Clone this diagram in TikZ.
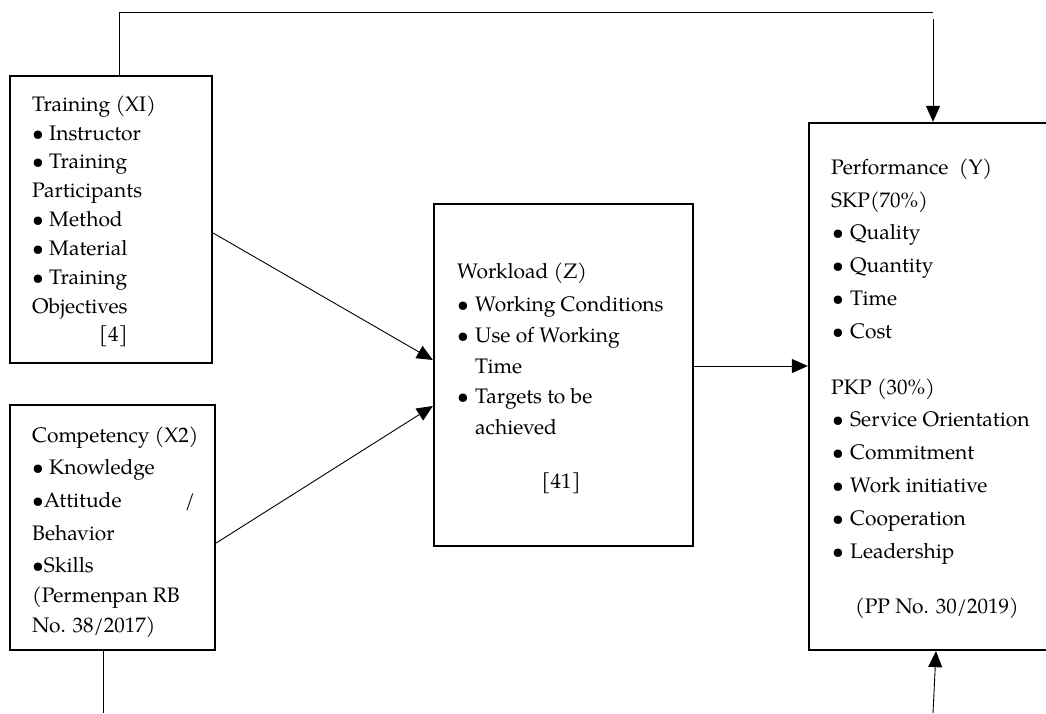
\documentclass[tikz,border=0pt]{standalone}
\usepackage{fontspec}
\setmainfont{TeX Gyre Pagella}
\usetikzlibrary{arrows.meta}
\begin{document}
\begin{tikzpicture}[x=1pt,y=-1pt,
  box/.style={draw,line width=2.3pt,inner sep=0pt,rectangle},
  conn/.style={line width=0.9pt},
  arr/.style={conn,-{Triangle[length=16pt,width=14pt]}},
  txt/.style={anchor=base west,inner sep=0pt,font=\fontsize{21}{29}\selectfont}]
\useasboundingbox (0,0) rectangle (1046,713);
% boxes
\node[box,minimum width=202pt,minimum height=287pt] (train) at (111,219.5) {};
\node[box,minimum width=205pt,minimum height=245pt] (comp) at (112.5,527.5) {};
\node[box,minimum width=259pt,minimum height=342pt] (work) at (563.5,375) {};
\node[box,minimum width=251pt,minimum height=527pt] (perf) at (934.5,386.5) {};
% training text
\foreach \n/\y/\t in {a/111/{Training (XI)}, b/140/{• Instructor}, c/168/{• Training},
  d/197/{Participants}, e/226/{• Method}, f/255/{• Material}, g/284/{• Training},
  h/313/{Objectives}}
  \node[txt] (tr\n) at (32,\y) {\t};
\node[txt] (trref) at (99,341) {[4]};
% competency text
\foreach \n/\y/\t in {a/442/{Competency (X2)}, b/474/{• Knowledge},
  c/507/{\hbox to 163pt{•Attitude\hfill/}}, d/540/{Behavior}, e/572/{•Skills},
  f/602/{(Permenpan RB}, g/632/{No. 38/2017)}}
  \node[txt] (co\n) at (32,\y) {\t};
% workload text
\node[txt] (woa) at (457,278) {Workload (Z)};
\foreach \n/\y/\t in {b/311/{Working Conditions}, c/342/{Use of Working}, e/403/{Targets to be}}
  \node[txt] (wo\n) at (457,\y) {\makebox[18pt][l]{•}\t};
\node[txt] (wod) at (475,373) {Time};
\node[txt] (wof) at (475,434) {achieved};
\node[txt,anchor=base] (woref) at (561,488) {[41]};
% performance text
\node[txt] (pea) at (831,174) {Performance~ (Y)};
\node[txt] (peb) at (831,207) {SKP(70\%)};
\foreach \n/\y/\t in {c/239/{Quality}, d/272/{Quantity}, e/305/{Time}, f/338/{Cost},
  h/426/{Service Orientation}, i/459/{Commitment}, j/492/{Work initiative},
  k/525/{Cooperation}, l/558/{Leadership}}
  \node[txt] (pe\n) at (832,\y) {\makebox[18pt][l]{•}\t};
\node[txt] (peg) at (831,394) {PKP (30\%)};
\node[txt] (peref) at (855,613) {(PP No. 30/2019)};
% connectors
\coordinate (topR) at (933,12);
\coordinate (topS) at (933,19);
\coordinate (botL) at (103,713);
\coordinate (botR) at (933,713);
\draw[conn] ([xshift=8pt]train.north) |- (topR);
\draw[arr] (topS) -- (topS |- perf.north);
\draw[conn] (botL |- comp.south) -- (botL);
\draw[arr] (botR) -- ([xshift=1.5pt]perf.south);
\draw[arr] ([yshift=-13.5pt]train.east) -- ([yshift=15pt]work.west);
\draw[arr] ([yshift=-15.5pt]comp.east) -- ([yshift=-31pt]work.west);
\draw[arr] ([yshift=9pt]work.east) -- ([yshift=9pt]work.east -| perf.west);
\end{tikzpicture}
\end{document}
